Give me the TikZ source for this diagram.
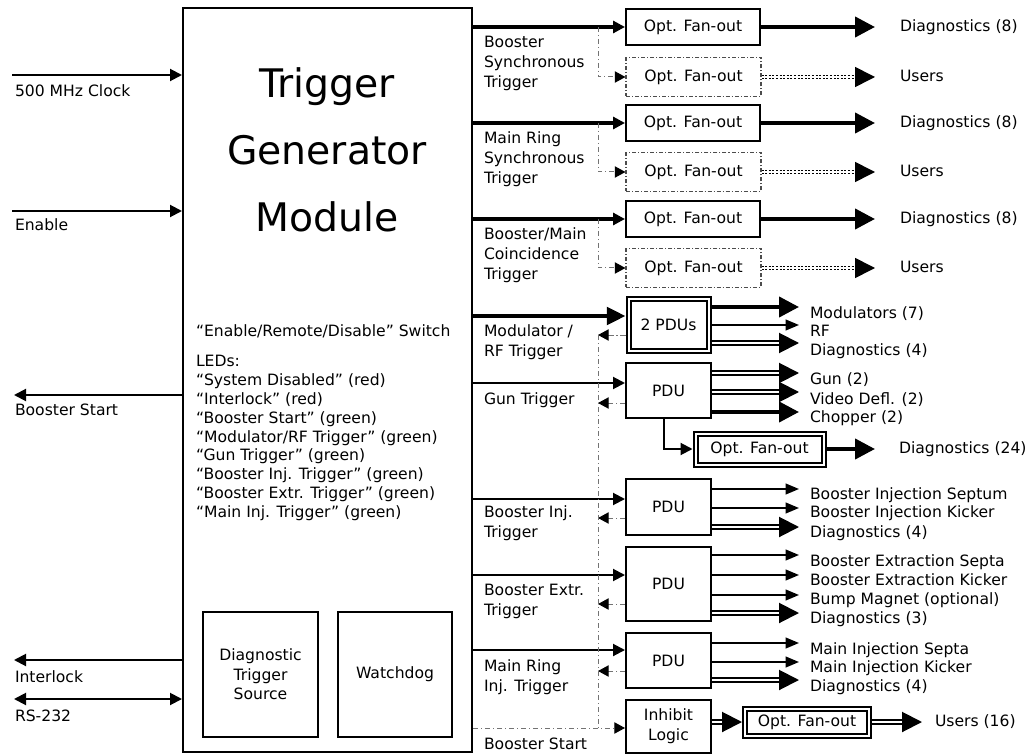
\documentclass[tikz,border=0pt]{standalone}
\usepackage{fontspec}
\setmainfont{DejaVu Sans}
\usetikzlibrary{arrows.meta,calc}
\tikzset{
  every node/.style={inner sep=0pt, outer sep=0pt},
  sz/.style 2 args={minimum width={#1*0.75pt}, minimum height={#2*0.75pt}},
  txt/.style={font=\fontsize{11.7pt}{14.6pt}\selectfont},
  lbl/.style={txt, anchor=west, align=left, text height=8.8pt, text depth=2.6pt},
  lbl2/.style={anchor=west, align=left, font=\fontsize{11.7pt}{15pt}\selectfont},
  box/.style={draw, line width=1.5pt, outer sep=0.75pt, txt, align=center},
  dbox/.style={draw, double, double distance=1.5pt, line width=1.5pt, outer sep=2.25pt, txt, align=center},
  dashbox/.style={draw=black!70, line width=0.8pt, dash pattern=on 3pt off 1.5pt on 0.8pt off 1.5pt, outer sep=0.4pt, txt, align=center},
  thk/.style={line width=3pt},
  thn/.style={line width=1.5pt},
  dbl/.style={double, double distance=1.5pt, line width=1.5pt},
  fbk/.style={draw=black!55, line width=0.75pt, dash pattern=on 4pt off 2pt on 1pt off 2pt},
  dots/.style={double, line width=1.2pt, double distance=0.9pt, dash pattern=on 1.5pt off 1.2pt},
  bigtip/.style={-{Triangle[length=15pt,width=15pt]}},
  smalltip/.style={-{Triangle[length=10pt,width=8pt]}},
  intip/.style={-{Triangle[length=9pt,width=9pt]}},
  backtip/.style={-{Triangle[length=8pt,width=8.5pt,color=black]}},
}
\begin{document}
\begin{tikzpicture}[x=0.75pt,y=-0.75pt]
\useasboundingbox (0,0) rectangle (1034,755);

% main module
\node[draw, line width=1.5pt, outer sep=0.75pt, sz={289}{744}] (tgm) at (327.5,380) {};
\node[font=\fontsize{29.5pt}{50pt}\selectfont, align=center] (ttl) at (327,150) {Trigger\\Generator\\Module};
\node[lbl] (sw) at (196,332) {“Enable/Remote/Disable” Switch};
\node[anchor=west, align=left, font=\fontsize{11.7pt}{14.1pt}\selectfont] (leds) at (196,438)
  {LEDs:\\“System Disabled” (red)\\“Interlock” (red)\\“Booster Start” (green)\\“Modulator/RF Trigger” (green)\\“Gun Trigger” (green)\\“Booster Inj. Trigger” (green)\\“Booster Extr. Trigger” (green)\\“Main Inj. Trigger” (green)};
\node[box, sz={115}{125}] (dts) at (260.5,674.5) {Diagnostic\\Trigger\\Source};
\node[box, sz={114}{125}] (wd) at (395,674.5) {Watchdog};

% left side
\coordinate (ck) at (12,75);
\draw[thn, intip] (ck) -- (tgm.west |- ck);
\node[lbl] (lck) at (15,92) {500 MHz Clock};
\coordinate (en) at (12,211);
\draw[thn, intip] (en) -- (tgm.west |- en);
\node[lbl] (len) at (15,226) {Enable};
\coordinate (bso) at (14,395);
\draw[thn, intip] (tgm.west |- bso) -- (bso);
\node[lbl] (lbso) at (15,411) {Booster Start};
\coordinate (il) at (14,660);
\draw[thn, intip] (tgm.west |- il) -- (il);
\node[lbl] (lil) at (15,678) {Interlock};
\coordinate (rs) at (14,699);
\draw[thn, {Triangle[length=9pt,width=9pt]}-{Triangle[length=9pt,width=9pt]}] (rs) -- (tgm.west |- rs);
\node[lbl] (lrs) at (15,717) {RS-232};

% synchronous rows
\foreach \n/\ya/\yb/\tx in {1/27/77/{Booster\\Synchronous\\Trigger},
                             2/123/172/{Main Ring\\Synchronous\\Trigger},
                             3/219/268/{Booster/Main\\Coincidence\\Trigger}} {
  \node[box, sz={134}{36}] (fo\n) at (693,\ya) {Opt. Fan-out};
  \node[dashbox, sz={135}{39}] (fd\n) at (693.5,\yb) {Opt. Fan-out};
  \draw[thk, intip] (tgm.east |- fo\n) -- (fo\n.west);
  \coordinate (br\n) at (598,\ya);
  \draw[fbk, backtip] (br\n) |- (fd\n.west);
  \coordinate (ta\n) at (875,\ya);
  \coordinate (tb\n) at (875,\yb);
  \draw[thk, bigtip] (fo\n.east) -- (ta\n);
  \draw[dots, bigtip] (fd\n.east) -- (tb\n);
  \node[lbl] (da\n) at (900,\ya) {Diagnostics (8)};
  \node[lbl] (db\n) at (900,\yb) {Users};
  \node[lbl2] (lt\n) at (484,\ya+36) {\tx};
}

% 2 PDUs
\node[dbox, sz={80}{51}] (p2) at (668.5,325) {2 PDUs};
\draw[thk, -{Triangle[length=14pt,width=13pt]}] (tgm.east |- 0,316) -- (p2.west |- 0,316);
\coordinate (r2) at (598,335);
\draw[fbk, backtip] (p2.west |- r2) -- (r2);
\coordinate (m1) at (799,307);
\coordinate (m2) at (799,325);
\coordinate (m3) at (799,343);
\draw[thk, bigtip] (p2.east |- m1) -- (m1);
\draw[thn, smalltip] (p2.east |- m2) -- (m2);
\draw[dbl, bigtip] (p2.east |- m3) -- (m3);
\node[lbl] at (810,314) {Modulators (7)};
\node[lbl] at (810,332) {RF};
\node[lbl] at (810,351) {Diagnostics (4)};
\node[lbl2] (lmod) at (484,342) {Modulator /\\RF Trigger};

% Gun PDU
\node[box, sz={85}{55}] (pg) at (668.5,390.5) {PDU};
\draw[thn, intip] (tgm.east |- 0,383) -- (pg.west |- 0,383);
\coordinate (r3) at (598,403);
\draw[fbk, backtip] (pg.west |- r3) -- (r3);
\coordinate (g1) at (799,373);
\coordinate (g2) at (799,392);
\coordinate (g3) at (799,412);
\draw[dbl, bigtip] (pg.east |- g1) -- (g1);
\draw[dbl, bigtip] (pg.east |- g2) -- (g2);
\draw[thk, bigtip] (pg.east |- g3) -- (g3);
\node[lbl] at (810,380) {Gun (2)};
\node[lbl] at (810,400) {Video Defl. (2)};
\node[lbl] at (810,418) {Chopper (2)};
\node[lbl] (lgun) at (484,400) {Gun Trigger};
\node[dbox, sz={128}{31}] (fo24) at (759.5,449) {Opt. Fan-out};
\coordinate (gk) at (664,449);
\draw[thn, intip] (pg.south -| gk) |- (fo24.west);
\coordinate (t24) at (875,449);
\draw[thk, bigtip] (fo24.east) -- (t24);
\node[lbl] at (899,449) {Diagnostics (24)};

% Booster injection PDU
\node[box, sz={85}{56}] (pi) at (668.5,507) {PDU};
\draw[thn, intip] (tgm.east |- 0,499) -- (pi.west |- 0,499);
\coordinate (r4) at (598,518);
\draw[fbk, backtip] (pi.west |- r4) -- (r4);
\coordinate (i1) at (799,489);
\coordinate (i2) at (799,508);
\coordinate (i3) at (799,527);
\draw[thn, smalltip] (pi.east |- i1) -- (i1);
\draw[thn, smalltip] (pi.east |- i2) -- (i2);
\draw[dbl, bigtip] (pi.east |- i3) -- (i3);
\node[lbl] at (810,495) {Booster Injection Septum};
\node[lbl] at (810,513) {Booster Injection Kicker};
\node[lbl] at (810,533) {Diagnostics (4)};
\node[lbl2] (linj) at (484,523) {Booster Inj.\\Trigger};

% Booster extraction PDU
\node[box, sz={85}{74}] (pe) at (668.5,584) {PDU};
\draw[thn, intip] (tgm.east |- 0,575) -- (pe.west |- 0,575);
\coordinate (r5) at (598,604);
\draw[fbk, backtip] (pe.west |- r5) -- (r5);
\coordinate (e1) at (799,555);
\coordinate (e2) at (799,575);
\coordinate (e3) at (799,595);
\coordinate (e4) at (799,613);
\draw[thn, smalltip] (pe.east |- e1) -- (e1);
\draw[thn, smalltip] (pe.east |- e2) -- (e2);
\draw[thn, smalltip] (pe.east |- e3) -- (e3);
\draw[dbl, bigtip] (pe.east |- e4) -- (e4);
\node[lbl] at (810,562) {Booster Extraction Septa};
\node[lbl] at (810,581) {Booster Extraction Kicker};
\node[lbl] at (810,600) {Bump Magnet (optional)};
\node[lbl] at (810,619) {Diagnostics (3)};
\node[lbl2] (lext) at (484,601) {Booster Extr.\\Trigger};

% Main ring PDU
\node[box, sz={85}{55}] (pm) at (668.5,660.5) {PDU};
\draw[thn, intip] (tgm.east |- 0,650) -- (pm.west |- 0,650);
\coordinate (r6) at (598,671);
\draw[fbk, backtip] (pm.west |- r6) -- (r6);
\coordinate (n1) at (799,643);
\coordinate (n2) at (799,662);
\coordinate (n3) at (799,680);
\draw[thn, smalltip] (pm.east |- n1) -- (n1);
\draw[thn, smalltip] (pm.east |- n2) -- (n2);
\draw[dbl, bigtip] (pm.east |- n3) -- (n3);
\node[lbl] at (810,650) {Main Injection Septa};
\node[lbl] at (810,668) {Main Injection Kicker};
\node[lbl] at (810,687) {Diagnostics (4)};
\node[lbl2] (lmr) at (484,677) {Main Ring\\Inj. Trigger};

% Inhibit logic
\node[box, sz={85}{53}] (ih) at (668.5,726) {Inhibit\\Logic};
\coordinate (bsr) at (598,728);
\draw[fbk] (r2) -- (bsr);
\draw[fbk, backtip] (tgm.east |- bsr) -- (ih.west |- bsr);
\node[lbl] (lbs) at (484,745) {Booster Start};
\node[dbox, sz={124}{27}] (fo16) at (807,722) {Opt. Fan-out};
\draw[dbl, bigtip] (ih.east |- fo16) -- (fo16.west);
\coordinate (t16) at (922,722);
\draw[dbl, bigtip] (fo16.east) -- (t16);
\node[lbl] at (935,722) {Users (16)};
\end{tikzpicture}
\end{document}
